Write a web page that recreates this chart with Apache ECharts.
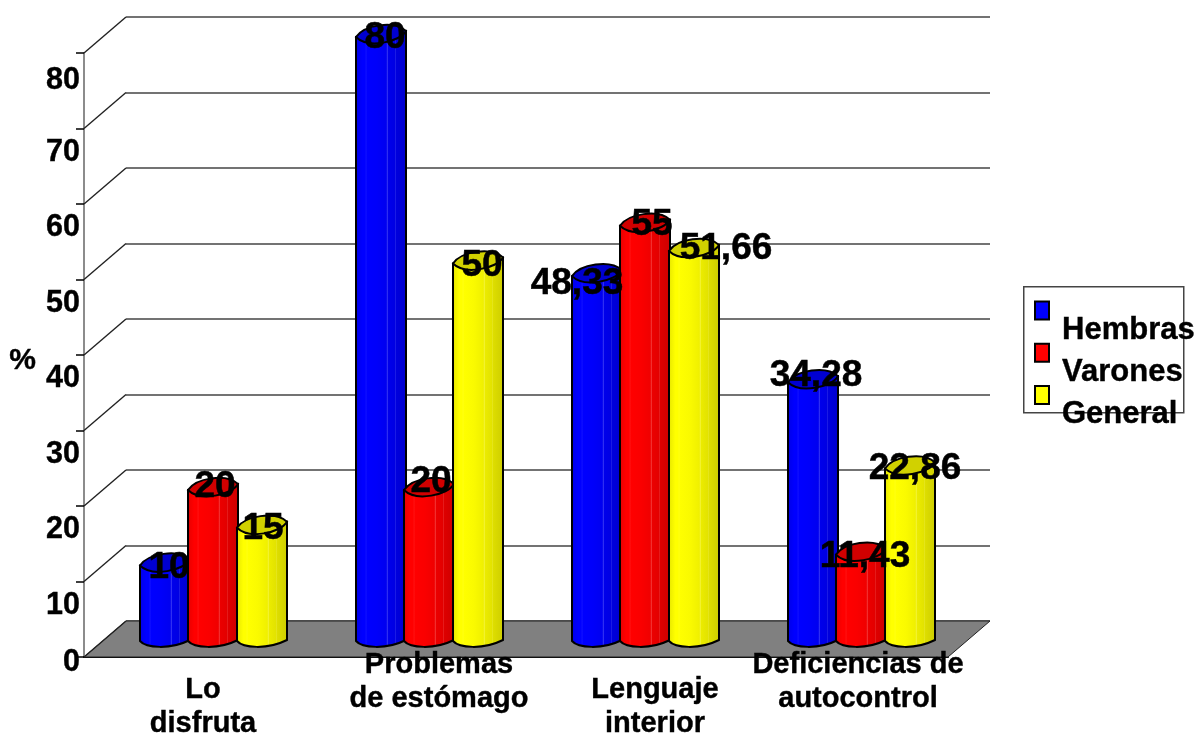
<!DOCTYPE html>
<html>
<head>
<meta charset="utf-8">
<style>html,body{margin:0;padding:0;background:#fff}#chart{width:1199px;height:733px}</style>
<script src="https://cdn.jsdelivr.net/npm/echarts@6/dist/echarts.min.js"></script>
</head>
<body>
<div id="chart"></div>
<script>
// Values per category, in percent
const categories = ['Lo\ndisfruta', 'Problemas\nde estómago', 'Lenguaje\ninterior', 'Deficiencias de\nautocontrol'];
const hembras = [10, 80, 48.33, 34.28];
const varones = [20, 20, 55, 11.43];
const general = [15, 50, 51.66, 22.86];
const seriesNames = ['Hembras', 'Varones', 'General'];
const ticks = [0, 10, 20, 30, 40, 50, 60, 70, 80];

// Hand placement of the value captions, [dx, dy] from the cylinder's top
const hembrasShift = [[4, 2], [4, 1], [-20, 8], [3, -6]];
const varonesShift = [[2, -3], [2, -8], [7, -1], [4, 2]];
const generalShift = [[1, 1], [4, 2], [32, -2], [5, 0]];

const FONT = '"Liberation Sans", Arial, sans-serif';
const DEPTH_X = 42, DEPTH_Y = 36;
const RADIUS = 25;
const HEAVY = { textBorderColor: '#000', textBorderWidth: 0.4 };

function shade(rgb, k, w) {
  const c = rgb.map(v => Math.round(v * k + (255 - v * k) * (w || 0)));
  return `rgb(${c[0]},${c[1]},${c[2]})`;
}

function bodyFill(rgb) {
  // Banded horizontal shading of the cylinder wall
  const bands = [
    [0, .88, 0], [.06, .94, 0], [.14, 1, 0], [.2, 1, 0], [.21, 1, .16], [.225, 1, 0],
    [.42, .98, 0], [.6, .94, 0], [.625, .94, .18], [.64, .92, 0], [.76, .89, 0],
    [.775, .89, .14], [.79, .87, 0], [1, .8, 0]
  ];
  return {
    type: 'linear', x: 0, y: 0, x2: 1, y2: 0,
    colorStops: bands.map(b => ({ offset: b[0], color: shade(rgb, b[1], b[2]) }))
  };
}

function cylinderSeries(name, values, rgb, offset, shifts) {
  return {
    type: 'custom', name, xAxisIndex: 2, yAxisIndex: 2, z: 3,
    itemStyle: { color: shade(rgb, 1) },
    data: values.map((v, i) => [i, v]),
    renderItem(params, api) {
      const i = api.value(0), v = api.value(1);
      const top = api.coord([i, v]), base = api.coord([i, 0]);
      const cx = top[0] + offset, l = cx - RADIUS, r = cx + RADIUS;
      const yt = top[1], yb = base[1];
      const tilt = 6;
      const body = `M${l} ${yt}L${l} ${yb}C${l + 6} ${yb + 7} ${r - 20} ${yb + 9} ${r} ${yb - 1}L${r} ${yt - tilt}Z`;
      const cap = `M${l} ${yt}C${l + 8} ${yt - 12} ${r - 12} ${yt - 17} ${r} ${yt - tilt}C${r - 6} ${yt + 5} ${l + 12} ${yt + 12} ${l} ${yt}Z`;
      const stroke = { stroke: '#000', lineWidth: 2 };
      return {
        type: 'group',
        children: [
          { type: 'path', shape: { pathData: body }, style: Object.assign({ fill: bodyFill(rgb) }, stroke) },
          { type: 'path', shape: { pathData: cap }, style: Object.assign({ fill: shade(rgb, .82) }, stroke) },
          {
            type: 'text', z2: 50,
            style: {
              text: String(v).replace('.', ','),
              x: cx + shifts[i][0], y: yt + shifts[i][1],
              align: 'center', verticalAlign: 'middle',
              font: `bold 37px ${FONT}`, fill: '#000', stroke: '#000', lineWidth: 0.5
            }
          }
        ]
      };
    }
  };
}

// Slanted connectors between the front axis ticks and the back wall lines
const wallSeries = {
  type: 'custom', xAxisIndex: 0, yAxisIndex: 0, z: 1, silent: true,
  data: ticks.map(t => [0, t]),
  renderItem(params, api) {
    const p = api.coord([0, api.value(1)]);
    const x = params.coordSys.x;
    return {
      type: 'line',
      shape: { x1: x, y1: p[1], x2: x + DEPTH_X, y2: p[1] - DEPTH_Y },
      style: { stroke: '#222', lineWidth: 1.4 }
    };
  }
};

const floorSeries = {
  type: 'custom', xAxisIndex: 1, yAxisIndex: 1, z: 1, silent: true,
  data: [[0, 0]],
  renderItem(params) {
    const c = params.coordSys, y = c.y + c.height;
    return {
      type: 'polygon',
      shape: { points: [[c.x, y], [c.x + c.width, y], [c.x + c.width - DEPTH_X, y + DEPTH_Y], [c.x - DEPTH_X, y + DEPTH_Y]] },
      style: { fill: '#808080', stroke: '#222', lineWidth: 1 }
    };
  }
};

const labelBase = Object.assign({ fontFamily: FONT, fontWeight: 'bold', fontSize: 29, color: '#000' }, HEAVY);
const tickBase = Object.assign({ fontFamily: FONT, fontWeight: 'bold', fontSize: 30.5, color: '#000' }, HEAVY);

const option = {
  animation: false,
  backgroundColor: '#fff',
  grid: [
    { left: 84, top: 53, width: 864, height: 604, outerBoundsMode: 'none' },   // front edge: value axis
    { left: 126, top: 17, width: 864, height: 604, outerBoundsMode: 'none' },  // back wall
    { left: 105, top: 37, width: 864, height: 604, outerBoundsMode: 'none' }   // mid depth: cylinders
  ],
  xAxis: [
    { gridIndex: 0, type: 'category', data: categories, axisTick: { show: false }, axisLabel: { show: false },
      axisLine: { lineStyle: { color: '#000', width: 2 } } },
    { gridIndex: 1, type: 'category', data: categories, show: false },
    { gridIndex: 2, type: 'category', data: categories, z: 10, axisLine: { show: false }, axisTick: { show: false },
      axisLabel: {
        interval: 0, margin: 9, align: 'center', hideOverlap: false,
        formatter(value, i) {
          const lines = value.split('\n');
          const tag = ['a', 'b', 'c', 'd'][i];
          return `{${tag}1|${lines[0]}}\n{${tag}2|${lines[1]}}`;
        },
        rich: {
          a1: Object.assign({ padding: [25, 20, 5, 0] }, labelBase),
          a2: Object.assign({ padding: [0, 20, 0, 0] }, labelBase),
          b1: Object.assign({ padding: [0, 0, 5, 20] }, labelBase),
          b2: Object.assign({ padding: [0, 0, 0, 20] }, labelBase),
          c1: Object.assign({ padding: [25, 0, 5, 20] }, labelBase),
          c2: Object.assign({ padding: [0, 0, 0, 20] }, labelBase),
          d1: Object.assign({ padding: [0, 6, 5, 0] }, labelBase),
          d2: Object.assign({ padding: [0, 6, 0, 0] }, labelBase)
        }
      } }
  ],
  yAxis: [
    { gridIndex: 0, type: 'value', min: 0, max: 80, interval: 10,
      name: '{p|%}', nameLocation: 'middle', nameGap: 48, nameRotate: 0,
      nameTextStyle: {
        rich: { p: Object.assign({ fontFamily: FONT, fontWeight: 'bold', fontSize: 30, color: '#000', lineHeight: 34, padding: [12, 0, 0, 0] }, HEAVY) }
      },
      splitLine: { show: false },
      axisLine: { show: true, lineStyle: { color: '#666', width: 1.5 } },
      axisTick: { show: true, length: 8, lineStyle: { color: '#000', width: 1.5 } },
      axisLabel: {
        margin: 4, showMinLabel: true, showMaxLabel: true, hideOverlap: false, verticalAlign: 'top',
        formatter: v => (v === 0 ? `{z|${v}}` : v === 80 ? `{m|${v}}` : `{n|${v}}`),
        rich: {
          z: Object.assign({ lineHeight: 12 }, tickBase),
          n: Object.assign({ lineHeight: 48 }, tickBase),
          m: Object.assign({ lineHeight: 56 }, tickBase)
        }
      } },
    { gridIndex: 1, type: 'value', min: 0, max: 80, interval: 10,
      axisLine: { show: false }, axisTick: { show: false }, axisLabel: { show: false },
      splitLine: { show: true, lineStyle: { color: '#444', width: 1.5 } } },
    { gridIndex: 2, type: 'value', min: 0, max: 80, interval: 10, splitLine: { show: false }, show: false }
  ],
  legend: {
    data: seriesNames, orient: 'vertical', left: 1034, top: 275,
    padding: 0, itemWidth: 14, itemHeight: 18, itemGap: -29,
    icon: 'rect', selectedMode: false,
    itemStyle: { borderColor: '#000', borderWidth: 2 },
    formatter: name => `{t|${name}}`,
    textStyle: {
      rich: { t: Object.assign({ fontFamily: FONT, fontWeight: 'bold', fontSize: 31, color: '#000', lineHeight: 34, padding: [40, 0, 0, 8] }, HEAVY) }
    }
  },
  graphic: [{
    type: 'rect', left: 1023, top: 286, z: -1,
    shape: { width: 160, height: 126 },
    style: { fill: '#fff', stroke: '#444', lineWidth: 1.5 }
  }],
  series: [
    floorSeries,
    wallSeries,
    cylinderSeries(seriesNames[0], hembras, [0, 0, 255], -48, hembrasShift),
    cylinderSeries(seriesNames[1], varones, [255, 0, 0], 0, varonesShift),
    cylinderSeries(seriesNames[2], general, [255, 255, 0], 49, generalShift)
  ]
};

echarts.init(document.getElementById('chart'), null, { renderer: 'canvas' }).setOption(option);
</script>
</body>
</html>
